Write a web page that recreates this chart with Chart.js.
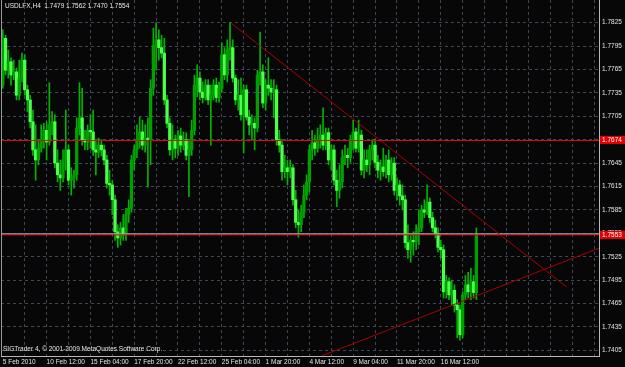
<!DOCTYPE html>
<html>
<head>
<meta charset="utf-8">
<script src="https://cdn.jsdelivr.net/npm/chart.js@4.4.0/dist/chart.umd.min.js"></script>
<style>
  html, body { margin: 0; padding: 0; background: #000; }
  canvas { display: block; }
</style>
</head>
<body>
<canvas id="chart" width="625" height="367"></canvas>
<script>
// USDLFX H4 bars, 5 Feb 2010 20:00 onwards
const symbol = "USDLFX,H4";

const barOpen = [
  1.7745, 1.7805, 1.7764, 1.7775, 1.7758, 1.7762, 1.7732, 1.7754, 1.7777, 1.7739,
  1.7726, 1.7698, 1.7662, 1.7649, 1.7664, 1.7675, 1.7687, 1.7672, 1.7694, 1.7698,
  1.7645, 1.7630, 1.7626, 1.7649, 1.7662, 1.7623, 1.7626, 1.7630, 1.7690, 1.7703,
  1.7675, 1.7672, 1.7687, 1.7685, 1.7662, 1.7659, 1.7668, 1.7662, 1.7649, 1.7619,
  1.7617, 1.7598, 1.7557, 1.7549, 1.7562, 1.7553, 1.7579, 1.7587, 1.7649, 1.7662,
  1.7675, 1.7685, 1.7668, 1.7677, 1.7675, 1.7741, 1.7796, 1.7803, 1.7793, 1.7786,
  1.7726, 1.7696, 1.7662, 1.7675, 1.7664, 1.7680, 1.7668, 1.7675, 1.7655, 1.7662,
  1.7687, 1.7745, 1.7754, 1.7736, 1.7729, 1.7745, 1.7726, 1.7732, 1.7745, 1.7729,
  1.7741, 1.7784, 1.7758, 1.7790, 1.7793, 1.7754, 1.7726, 1.7732, 1.7707, 1.7739,
  1.7704, 1.7694, 1.7696, 1.7690, 1.7758, 1.7762, 1.7722, 1.7745, 1.7741, 1.7736,
  1.7739, 1.7675, 1.7668, 1.7634, 1.7639, 1.7634, 1.7639, 1.7598, 1.7569, 1.7566,
  1.7582, 1.7604, 1.7621, 1.7662, 1.7671, 1.7664, 1.7675, 1.7681, 1.7668, 1.7684,
  1.7649, 1.7662, 1.7623, 1.7610, 1.7621, 1.7652, 1.7655, 1.7652, 1.7675, 1.7685,
  1.7664, 1.7681, 1.7636, 1.7649, 1.7643, 1.7662, 1.7668, 1.7646, 1.7636, 1.7640,
  1.7634, 1.7649, 1.7630, 1.7645, 1.7610, 1.7617, 1.7603, 1.7598, 1.7543, 1.7534,
  1.7546, 1.7544, 1.7557, 1.7562, 1.7585, 1.7582, 1.7595, 1.7575, 1.7562, 1.7555,
  1.7537, 1.7534, 1.7480, 1.7493, 1.7476, 1.7482, 1.7463, 1.7457, 1.7425, 1.7476,
  1.7489, 1.7480, 1.7493, 1.7479
];

const barHigh = [
  1.7816, 1.7809, 1.7790, 1.7780, 1.7777, 1.7767, 1.7777, 1.7786, 1.7784, 1.7745,
  1.7732, 1.7713, 1.7694, 1.7675, 1.7694, 1.7696, 1.7698, 1.7748, 1.7711, 1.7707,
  1.7662, 1.7649, 1.7662, 1.7713, 1.7668, 1.7639, 1.7636, 1.7703, 1.7748, 1.7741,
  1.7687, 1.7694, 1.7707, 1.7713, 1.7675, 1.7677, 1.7675, 1.7668, 1.7655, 1.7636,
  1.7623, 1.7604, 1.7566, 1.7569, 1.7579, 1.7587, 1.7598, 1.7655, 1.7668, 1.7694,
  1.7704, 1.7700, 1.7694, 1.7703, 1.7752, 1.7818, 1.7825, 1.7816, 1.7809, 1.7805,
  1.7732, 1.7703, 1.7694, 1.7681, 1.7687, 1.7690, 1.7685, 1.7684, 1.7675, 1.7700,
  1.7758, 1.7771, 1.7762, 1.7749, 1.7752, 1.7752, 1.7745, 1.7752, 1.7754, 1.7749,
  1.7799, 1.7793, 1.7803, 1.7825, 1.7803, 1.7758, 1.7752, 1.7754, 1.7745, 1.7745,
  1.7713, 1.7707, 1.7703, 1.7764, 1.7813, 1.7771, 1.7752, 1.7780, 1.7752, 1.7752,
  1.7745, 1.7687, 1.7675, 1.7655, 1.7649, 1.7649, 1.7643, 1.7610, 1.7585, 1.7591,
  1.7617, 1.7630, 1.7668, 1.7687, 1.7681, 1.7690, 1.7694, 1.7716, 1.7690, 1.7690,
  1.7668, 1.7668, 1.7636, 1.7643, 1.7662, 1.7668, 1.7664, 1.7681, 1.7700, 1.7690,
  1.7700, 1.7687, 1.7662, 1.7662, 1.7668, 1.7675, 1.7675, 1.7655, 1.7649, 1.7664,
  1.7655, 1.7662, 1.7652, 1.7652, 1.7626, 1.7623, 1.7617, 1.7604, 1.7566, 1.7553,
  1.7557, 1.7566, 1.7585, 1.7591, 1.7598, 1.7617, 1.7600, 1.7582, 1.7572, 1.7562,
  1.7546, 1.7540, 1.7501, 1.7498, 1.7495, 1.7489, 1.7470, 1.7463, 1.7480, 1.7501,
  1.7505, 1.7510, 1.7501, 1.7562
];

const barLow = [
  1.7741, 1.7758, 1.7754, 1.7745, 1.7752, 1.7726, 1.7726, 1.7749, 1.7732, 1.7711,
  1.7690, 1.7655, 1.7623, 1.7643, 1.7659, 1.7664, 1.7649, 1.7668, 1.7681, 1.7639,
  1.7621, 1.7610, 1.7621, 1.7636, 1.7617, 1.7604, 1.7613, 1.7623, 1.7681, 1.7668,
  1.7662, 1.7662, 1.7664, 1.7655, 1.7630, 1.7652, 1.7654, 1.7643, 1.7613, 1.7604,
  1.7579, 1.7546, 1.7537, 1.7540, 1.7546, 1.7546, 1.7569, 1.7582, 1.7636, 1.7652,
  1.7664, 1.7662, 1.7659, 1.7614, 1.7643, 1.7732, 1.7764, 1.7777, 1.7780, 1.7720,
  1.7690, 1.7655, 1.7649, 1.7652, 1.7655, 1.7659, 1.7662, 1.7649, 1.7602, 1.7655,
  1.7681, 1.7730, 1.7726, 1.7722, 1.7726, 1.7720, 1.7668, 1.7726, 1.7723, 1.7723,
  1.7736, 1.7752, 1.7749, 1.7777, 1.7749, 1.7720, 1.7713, 1.7700, 1.7658, 1.7700,
  1.7681, 1.7675, 1.7662, 1.7685, 1.7745, 1.7716, 1.7713, 1.7732, 1.7726, 1.7703,
  1.7668, 1.7659, 1.7623, 1.7626, 1.7617, 1.7626, 1.7591, 1.7562, 1.7550, 1.7557,
  1.7575, 1.7598, 1.7608, 1.7649, 1.7655, 1.7659, 1.7664, 1.7662, 1.7662, 1.7643,
  1.7636, 1.7617, 1.7589, 1.7600, 1.7613, 1.7643, 1.7639, 1.7646, 1.7662, 1.7659,
  1.7659, 1.7630, 1.7626, 1.7634, 1.7630, 1.7649, 1.7639, 1.7626, 1.7623, 1.7628,
  1.7626, 1.7621, 1.7623, 1.7604, 1.7598, 1.7591, 1.7585, 1.7536, 1.7523, 1.7518,
  1.7527, 1.7534, 1.7540, 1.7557, 1.7575, 1.7579, 1.7569, 1.7557, 1.7549, 1.7531,
  1.7523, 1.7472, 1.7472, 1.7470, 1.7463, 1.7454, 1.7421, 1.7418, 1.7421, 1.7470,
  1.7472, 1.7470, 1.7472, 1.7470
];

const barClose = [
  1.7805, 1.7764, 1.7775, 1.7758, 1.7762, 1.7732, 1.7754, 1.7777, 1.7739, 1.7726,
  1.7698, 1.7662, 1.7649, 1.7664, 1.7675, 1.7687, 1.7672, 1.7694, 1.7698, 1.7645,
  1.7630, 1.7626, 1.7649, 1.7662, 1.7623, 1.7626, 1.7630, 1.7690, 1.7703, 1.7675,
  1.7672, 1.7687, 1.7685, 1.7662, 1.7659, 1.7668, 1.7662, 1.7649, 1.7619, 1.7617,
  1.7598, 1.7557, 1.7549, 1.7562, 1.7553, 1.7579, 1.7587, 1.7649, 1.7662, 1.7675,
  1.7685, 1.7668, 1.7677, 1.7675, 1.7741, 1.7796, 1.7803, 1.7793, 1.7786, 1.7726,
  1.7696, 1.7662, 1.7675, 1.7664, 1.7680, 1.7668, 1.7675, 1.7655, 1.7662, 1.7687,
  1.7745, 1.7754, 1.7736, 1.7729, 1.7745, 1.7726, 1.7732, 1.7745, 1.7729, 1.7741,
  1.7784, 1.7758, 1.7790, 1.7793, 1.7754, 1.7726, 1.7732, 1.7707, 1.7739, 1.7704,
  1.7694, 1.7696, 1.7690, 1.7758, 1.7762, 1.7722, 1.7745, 1.7741, 1.7736, 1.7739,
  1.7675, 1.7668, 1.7634, 1.7639, 1.7634, 1.7639, 1.7598, 1.7569, 1.7566, 1.7582,
  1.7604, 1.7621, 1.7662, 1.7671, 1.7664, 1.7675, 1.7681, 1.7668, 1.7684, 1.7649,
  1.7662, 1.7623, 1.7610, 1.7621, 1.7652, 1.7655, 1.7652, 1.7675, 1.7685, 1.7664,
  1.7681, 1.7636, 1.7649, 1.7643, 1.7662, 1.7668, 1.7646, 1.7636, 1.7640, 1.7634,
  1.7649, 1.7630, 1.7645, 1.7610, 1.7617, 1.7603, 1.7598, 1.7543, 1.7534, 1.7546,
  1.7544, 1.7557, 1.7562, 1.7585, 1.7582, 1.7595, 1.7575, 1.7562, 1.7555, 1.7537,
  1.7534, 1.7480, 1.7493, 1.7476, 1.7482, 1.7463, 1.7457, 1.7425, 1.7476, 1.7489,
  1.7480, 1.7493, 1.7479, 1.7554
];

// time labels, one every 16 bars (grid every 8 bars)
const dateLabels = ["5 Feb 2010", "10 Feb 12:00", "15 Feb 04:00", "17 Feb 20:00", "22 Feb 12:00",
  "25 Feb 04:00", "1 Mar 20:00", "4 Mar 12:00", "9 Mar 04:00", "11 Mar 20:00", "16 Mar 12:00"];
const barsPerLabel = 16;
const barsPerGrid = 8;

const priceTicks = [1.7405, 1.7435, 1.7465, 1.7495, 1.7525, 1.7555, 1.7585, 1.7615,
  1.7645, 1.7675, 1.7705, 1.7735, 1.7765, 1.7795, 1.7825];

// horizontal lines and trend lines drawn on the chart
const levelLines = [1.7674, 1.7553];
const trendDown = [{ x: 83.6, y: 1.7824 }, { x: 206.0, y: 1.7486 }];
const trendUp = [{ x: 116.6, y: 1.7398 }, { x: 217.8, y: 1.7536 }];

const copyright = "SIGTrader 4, \u00a9 2001-2009 MetaQuotes Software Corp.";

// visible range (chart shifted to leave space on the right)
const xMin = -0.66, xMax = 217.8;
const yMin = 1.73977, yMax = 1.78541;

const fontFamily = '"Liberation Sans", Arial, sans-serif';
const fontSize = 6.5;
const gridColor = "#3d4856";
const lastBar = barClose.length - 1;

const wickData = barHigh.map((h, i) => ({ x: i, y: [barLow[i], h] }));
const bodyData = barOpen.map((o, i) => ({ x: i, y: [o, barClose[i]] }));
const isBull = i => barClose[i] >= barOpen[i];

const hline = (v) => [{ x: xMin, y: v }, { x: xMax, y: v }];
const lineStyle = { type: "line", pointRadius: 0, tension: 0, fill: false, order: 0 };

const overlayText = {
  id: "overlayText",
  afterDraw(chart) {
    const { ctx, chartArea, scales } = chart;
    ctx.save();
    ctx.font = fontSize + "px " + fontFamily;
    ctx.textBaseline = "middle";
    ctx.fillStyle = "#e6e6e6";
    const head = `${symbol}  ${barOpen[lastBar].toFixed(4)} ${barHigh[lastBar].toFixed(4)} ${barLow[lastBar].toFixed(4)} ${barClose[lastBar].toFixed(4)}`;
    ctx.fillText(head, 5, 6);
    ctx.fillText(copyright, 3, 349);

    // price tags for the horizontal lines
    levelLines.forEach(v => {
      const y = Math.round(scales.y.getPixelForValue(v));
      ctx.fillStyle = "#e00000";
      ctx.fillRect(chartArea.right + 1, y - 4, 25, 8);
      ctx.fillStyle = "#ffffff";
      ctx.fillText(v.toFixed(4), chartArea.right + 3, y);
    });

    // left frame line
    ctx.strokeStyle = "#9a9a9a";
    ctx.lineWidth = 1;
    ctx.beginPath();
    ctx.moveTo(chartArea.left + 0.5, chartArea.top);
    ctx.lineTo(chartArea.left + 0.5, chartArea.bottom);
    ctx.stroke();
    ctx.restore();
  }
};

const canvasBg = {
  id: "canvasBg",
  beforeDraw(chart) {
    const ctx = chart.ctx;
    ctx.save();
    ctx.fillStyle = "#070707";
    ctx.fillRect(0, 0, chart.width, chart.height);
    ctx.restore();
  }
};

Chart.defaults.font.family = fontFamily;
Chart.defaults.font.size = fontSize;

new Chart(document.getElementById("chart"), {
  type: "bar",
  data: {
    datasets: [
      Object.assign({}, lineStyle, { data: hline(barClose[lastBar]), borderColor: "#9ba5b2", borderWidth: 1.5, order: 1 }),
      Object.assign({}, lineStyle, { data: hline(levelLines[0]), borderColor: "#e00a0a", borderWidth: 1 }),
      Object.assign({}, lineStyle, { data: hline(levelLines[1]), borderColor: "#e00a0a", borderWidth: 1 }),
      Object.assign({}, lineStyle, { data: trendDown, borderColor: "#a80000", borderWidth: 1 }),
      Object.assign({}, lineStyle, { data: trendUp, borderColor: "#a80000", borderWidth: 1 }),
      {
        data: bodyData,
        grouped: false,
        barThickness: 2.6,
        borderWidth: 0,
        backgroundColor: ctx => isBull(ctx.dataIndex) ? "#00a000" : "#4cff4c",
        order: 2
      },
      {
        data: wickData,
        grouped: false,
        barThickness: 1,
        borderWidth: 0,
        backgroundColor: "#00b400",
        order: 3
      }
    ]
  },
  options: {
    responsive: false,
    animation: false,
    devicePixelRatio: 1,
    layout: { padding: { left: 1, top: 0, right: 0, bottom: 0 } },
    plugins: { legend: { display: false }, tooltip: { enabled: false } },
    scales: {
      x: {
        type: "linear",
        min: xMin,
        max: xMax,
        offset: false,
        afterBuildTicks: scale => {
          const ticks = [];
          for (let b = 0; b <= xMax; b += barsPerGrid) ticks.push({ value: b });
          scale.ticks = ticks;
        },
        afterFit: scale => {
          scale.height = 11;
          scale.paddingLeft = 0;
          scale.paddingRight = 0;
        },
        ticks: {
          autoSkip: false,
          maxRotation: 0,
          align: "start",
          padding: 2,
          color: "#e6e6e6",
          callback: v => v % barsPerLabel === 0 ? (dateLabels[v / barsPerLabel] || "") : ""
        },
        grid: {
          offset: false,
          drawTicks: false,
          color: ctx => ctx.tick && ctx.tick.value === 0 ? "rgba(0,0,0,0)" : gridColor
        },
        border: { display: true, color: "#b8b8b8", width: 1, dash: [3, 3] }
      },
      y: {
        position: "right",
        min: yMin,
        max: yMax,
        afterBuildTicks: scale => { scale.ticks = priceTicks.map(v => ({ value: v })); },
        afterFit: scale => {
          scale.width = 26;
          scale.paddingTop = 0;
          scale.paddingBottom = 0;
        },
        ticks: {
          padding: 3,
          color: "#e6e6e6",
          callback: v => v.toFixed(4)
        },
        grid: { drawTicks: false, color: gridColor },
        border: { display: true, color: "#b8b8b8", width: 1, dash: [3, 3] }
      }
    }
  },
  plugins: [canvasBg, overlayText]
});
</script>
</body>
</html>
